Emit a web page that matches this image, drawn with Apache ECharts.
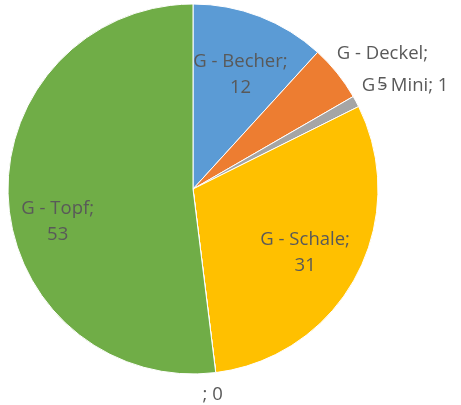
<!DOCTYPE html>
<html>
<head>
<meta charset="utf-8">
<script src="https://cdn.jsdelivr.net/npm/echarts@6/dist/echarts.min.js"></script>
<style>
html, body { margin: 0; padding: 0; background: #fff; }
#main { width: 461px; height: 405px; }
</style>
</head>
<body>
<div id="main"></div>
<script>
var names = ['G - Becher', 'G - Deckel', 'G - Mini', 'G - Schale', '', 'G - Topf'];
var values = [12, 5, 1, 31, 0, 53];
var colors = ['#5B9BD5', '#ED7D31', '#A5A5A5', '#FFC000', '#4472C4', '#70AD47'];

// label nudges from the default "inside" spot (Excel style label placement)
var labelShift = [[13, -25], [115, -60], [128, -58], [28, 19], [8, 111], [-40, 27]];

var data = [];
for (var i = 0; i < names.length; i++) {
    var item = {name: names[i], value: values[i], itemStyle: {color: colors[i]}};
    if (i === 1) item.label = {lineHeight: 31};
    data.push(item);
}

var myChart = echarts.init(document.getElementById('main'));
var option = {
    backgroundColor: '#fff',
    animation: false,
    series: [{
        type: 'pie',
        center: [193, 189],
        radius: 185,
        startAngle: 90,
        clockwise: true,
        avoidLabelOverlap: false,
        itemStyle: {
            borderColor: '#fff',
            borderWidth: 1
        },
        label: {
            show: true,
            position: 'inside',
            color: '#595959',
            fontFamily: 'Open Sans',
            fontSize: 18.5,
            lineHeight: 26,
            align: 'center',
            formatter: function (p) {
                if (p.value <= 1) return p.name + '; ' + p.value;
                return p.name + ';\n' + p.value;
            }
        },
        labelLine: {show: false},
        labelLayout: function (params) {
            var s = labelShift[params.dataIndex];
            return {dx: s[0], dy: s[1]};
        },
        emphasis: {disabled: true},
        data: data
    }]
};
myChart.setOption(option);
</script>
</body>
</html>
